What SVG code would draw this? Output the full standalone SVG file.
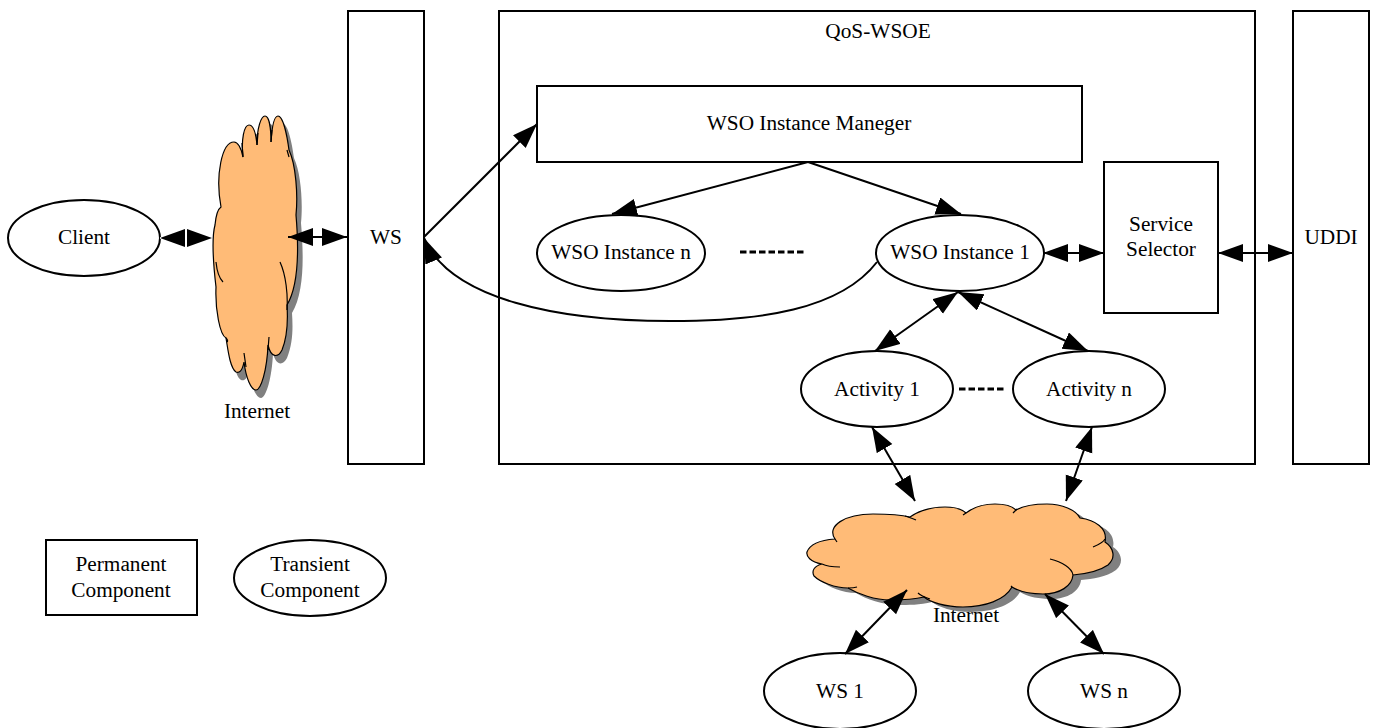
<svg xmlns="http://www.w3.org/2000/svg" width="1375" height="728" viewBox="0 0 1375 728">
<style>
.n{fill:#fff;stroke:#000;stroke-width:2}
text{font-family:"Liberation Serif","Times New Roman",serif;font-size:21.3px;fill:#000;text-anchor:middle}
.c{fill:none;stroke:#000;stroke-width:2;marker-end:url(#h);}
.d{marker-start:url(#h)}
.dash{fill:none;stroke:#000;stroke-width:3;stroke-dasharray:6.5 3}
.cl{fill:#ffbb77;stroke:#000;stroke-width:1.2}
.s{fill:#808080}
.i{fill:none;stroke:#000;stroke-width:1.2}
</style>
<defs>
<marker id="h" markerUnits="userSpaceOnUse" markerWidth="28" markerHeight="20" refX="25" refY="9" orient="auto-start-reverse"><path d="M0,0L25,9L0,18Z" fill="#000"/></marker>
<path id="cv" d="M221,207C215,175 222,142 234,142C238,142 241,148 243,157C241,140 244,125 249,125C254,125 256,134 257,145C257,128 261,116 265,116C269,116 271,128 271,142C272,126 274,116 278,116C283,116 287,135 289,150C296,165 298,195 296,215C299,250 299,285 287,305C288,320 288,335 282,350C278,358 271,358 268,345C267,370 261,390 256,390C251,390 246,378 244,362C242,372 239,373 236,372C230,368 228,350 226,338C220,335 215,310 216,287C214,270 211,240 215,225C216,214 218,209 221,207Z"/>
<path id="ch" d="M835,539C826,526 845,514 873,514C888,514 902,515 910,517C920,510 932,507 945,507C955,507 962,509 966,513C975,506 985,504 995,504C1005,504 1012,506 1016,510C1025,505 1035,504 1047,504C1062,504 1076,510 1080,518C1095,520 1108,528 1105,542C1114,548 1116,558 1108,565C1098,572 1085,574 1073,575C1072,586 1060,594 1043,594C1032,594 1020,592 1012,587C1005,600 985,607 963,607C945,607 930,602 924,597C912,600 900,600 890,600C875,600 858,594 848,588C835,588 820,582 814,576C811,570 815,566 822,564C810,562 806,556 807,552C810,544 822,540 835,539Z"/>
</defs>
<g id="ws"><rect class="n" x="348" y="11" width="76" height="453"/><text x="386" y="244">WS</text></g>
<g id="qos"><rect class="n" x="499" y="11" width="756" height="453"/><text x="878" y="38">QoS-WSOE</text></g>
<g id="uddi"><rect class="n" x="1293" y="11" width="76" height="453"/><text x="1331" y="244">UDDI</text></g>
<g id="manager"><rect class="n" x="537" y="86" width="545" height="76"/><text x="809" y="130">WSO Instance Maneger</text></g>
<g id="selector"><rect class="n" x="1104" y="162" width="114" height="151"/><text x="1161" y="231">Service</text><text x="1161" y="256">Selector</text></g>
<g id="permanent"><rect class="n" x="46" y="540" width="151" height="75"/><text x="121" y="571">Permanent</text><text x="121" y="597">Component</text></g>
<g id="client"><ellipse class="n" cx="84" cy="238" rx="76" ry="38"/><text x="84" y="244">Client</text></g>
<g id="transient"><ellipse class="n" cx="310" cy="578" rx="76" ry="38"/><text x="310" y="571">Transient</text><text x="310" y="597">Component</text></g>
<g id="wson"><ellipse class="n" cx="621" cy="253" rx="84" ry="38"/><text x="621" y="259">WSO Instance n</text></g>
<g id="wso1"><ellipse class="n" cx="960" cy="253" rx="84" ry="38"/><text x="960" y="259">WSO Instance 1</text></g>
<g id="act1"><ellipse class="n" cx="877" cy="389" rx="76" ry="38"/><text x="877" y="396">Activity 1</text></g>
<g id="actn"><ellipse class="n" cx="1089" cy="389" rx="76" ry="38"/><text x="1089" y="396">Activity n</text></g>
<g id="ws1"><ellipse class="n" cx="840" cy="691" rx="76" ry="38"/><text x="840" y="698">WS 1</text></g>
<g id="wsn"><ellipse class="n" cx="1104" cy="691" rx="76" ry="38"/><text x="1104" y="698">WS n</text></g>
<g id="cloud-left">
<use href="#cv" class="s" x="5" y="8"/><use href="#cv" class="cl"/>
<path class="i" d="M280,262C286,275 288,295 287,310M223,282C219,278 217,272 216,262M226,338C228,340 228,341 227,342M269,337L268,350M244,353L246,367M287,150L289,157M258,133L257,145M272,130L271,142M243,157L242,143"/>
<text x="257" y="418">Internet</text>
</g>
<g id="cloud-bottom">
<use href="#ch" class="s" x="8" y="5"/><use href="#ch" class="cl"/>
<path class="i" d="M916,520C912,518 908,517 905,516M1050,559C1062,562 1072,568 1073,575M1093,547C1098,545 1103,543 1105,539M1012,587L1011,586M840,567C832,567 826,566 822,564M857,587C854,588 851,588 848,588M918,593C921,596 924,597 930,599M966,513L963,515M1013,513L1017,509M835,539L837,542"/>
<text x="966" y="622">Internet</text>
</g>
<g id="connectors">
<line class="c d" style="stroke:#fff" x1="160" y1="238" x2="212" y2="238"/>
<line class="c d" x1="288" y1="237" x2="347" y2="237"/>
<line class="c" x1="424" y1="237" x2="537" y2="124"/>
<line class="c" x1="808" y1="162" x2="612" y2="214"/>
<line class="c" x1="808" y1="162" x2="961" y2="214"/>
<path class="c" d="M877,262C840,310 760,321 670,321C560,321 450,300 424,238"/>
<line class="c d" x1="1043" y1="253" x2="1104" y2="253"/>
<line class="c d" x1="1218" y1="253" x2="1293" y2="253"/>
<line class="c d" x1="958" y1="292" x2="875" y2="351"/>
<line class="c d" x1="958" y1="292" x2="1088" y2="351"/>
<line class="c d" x1="872" y1="427" x2="915" y2="501"/>
<line class="c d" x1="1092" y1="427" x2="1066" y2="501"/>
<line class="c d" x1="845" y1="654" x2="907" y2="590"/>
<line class="c d" x1="1104" y1="654" x2="1045" y2="594"/>
<line class="dash" x1="740" y1="252" x2="804" y2="252"/>
<line class="dash" x1="959" y1="389" x2="1005" y2="389"/>
</g>
</svg>
